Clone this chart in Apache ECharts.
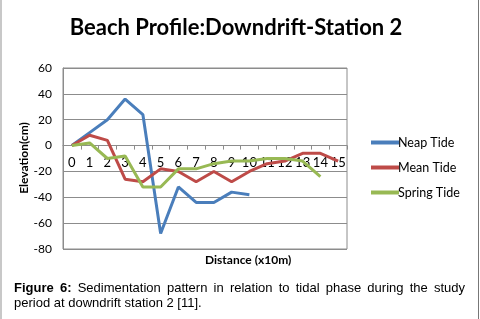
<!DOCTYPE html>
<html>
<head>
<meta charset="utf-8">
<script src="https://cdn.jsdelivr.net/npm/echarts@6/dist/echarts.min.js"></script>
<style>
  html, body { margin: 0; padding: 0; background: #fff; }
  #wrap { position: relative; width: 480px; height: 319px; }
  #chart { width: 480px; height: 319px; }
  #caption {
    position: absolute; left: 14px; top: 280px; width: 451px;
    font: 13px "Liberation Sans", Arial, sans-serif; line-height: 15px; color: #000;
    text-align: justify;
  }
</style>
</head>
<body>
<div id="wrap">
  <div id="chart"></div>
  <div id="caption"><b>Figure 6:</b> Sedimentation pattern in relation to tidal phase during the study period at downdrift station 2 [11].</div>
</div>
<script>
// distance stations (x10m)
var distances = ['0', '1', '2', '3', '4', '5', '6', '7', '8', '9', '10', '11', '12', '13', '14', '15'];
// elevation in cm
var neapTide = [0, 10, 20, 36, 24, -68, -32, -44, -44, -36, -38];
var meanTide = [0, 8, 4, -26, -28, -18, -20, -28, -20, -28, -20, -14, -12, -6, -6, -12];
var springTide = [0, 2, -10, -8, -32, -32, -18, -18, -14, -12, -12, -10, -10, -12, -24];
var yTicks = { min: -80, max: 60, step: 20 };

var lineFont = 'Lato, "Open Sans", sans-serif';
var gridColor = '#8c8c8c';
var gridTop = 68, gridBottom = 70;

function makeSeries(name, data, color) {
    return {
        name: name,
        type: 'line',
        data: data,
        symbol: 'none',
        lineStyle: { color: color, width: 3 },
        itemStyle: { color: color }
    };
}

// x axis sits on the zero line: shift it up from the bottom of the grid
var plotHeight = 319 - gridTop - gridBottom;
var zeroOffset = -plotHeight * (0 - yTicks.min) / (yTicks.max - yTicks.min);

var chart = echarts.init(document.getElementById('chart'));
var option = {
    animation: false,
    title: {
        text: 'Beach Profile:Downdrift-Station 2',
        left: 231,
        textAlign: 'center',
        top: 12,
        textStyle: { fontFamily: lineFont, fontSize: 22, fontWeight: 'bold', color: '#000' }
    },
    grid: {
        left: 63, right: 133, top: gridTop, bottom: gridBottom,
        show: true, borderColor: gridColor, borderWidth: 1
    },
    legend: {
        orient: 'vertical',
        left: 366,
        top: 131,
        itemGap: 12,
        itemWidth: 28,
        itemHeight: 4,
        icon: 'rect',
        textStyle: { fontFamily: lineFont, fontSize: 12.5, color: '#000', padding: [0, 0, 0, -6] },
        data: ['Neap Tide', 'Mean Tide', 'Spring Tide']
    },
    xAxis: {
        type: 'category',
        data: distances,
        boundaryGap: true,
        offset: zeroOffset,
        axisLine: { onZero: false, lineStyle: { color: gridColor } },
        axisTick: { show: true, length: 4, lineStyle: { color: gridColor } },
        axisLabel: { interval: 0, margin: 11, fontFamily: lineFont, fontSize: 13, color: '#000' },
        splitLine: { show: false }
    },
    yAxis: {
        type: 'value',
        min: yTicks.min,
        max: yTicks.max,
        interval: yTicks.step,
        axisLine: { show: true, lineStyle: { color: gridColor } },
        axisTick: { show: false },
        axisLabel: { margin: 11, fontFamily: lineFont, fontSize: 12, color: '#000' },
        splitLine: { lineStyle: { color: gridColor } }
    },
    graphic: [
        {
            type: 'text', x: 24, y: 158, rotation: Math.PI / 2,
            style: { text: 'Elevation(cm)', align: 'center', verticalAlign: 'middle', font: 'bold 12px ' + lineFont, fill: '#000' }
        },
        {
            type: 'text', left: 205, top: 254,
            style: { text: 'Distance (x10m)', textAlign: 'center', font: 'bold 12px ' + lineFont, fill: '#000' }
        },
        { type: 'rect', shape: { x: 0, y: 0, width: 2, height: 319 }, style: { fill: '#c8c8c8' } },
        { type: 'rect', shape: { x: 478, y: 0, width: 1, height: 319 }, style: { fill: '#777' } }
    ],
    series: [
        makeSeries('Neap Tide', neapTide, '#4a7ebb'),
        makeSeries('Mean Tide', meanTide, '#be4b48'),
        makeSeries('Spring Tide', springTide, '#98b954')
    ]
};
chart.setOption(option);
</script>
</body>
</html>
